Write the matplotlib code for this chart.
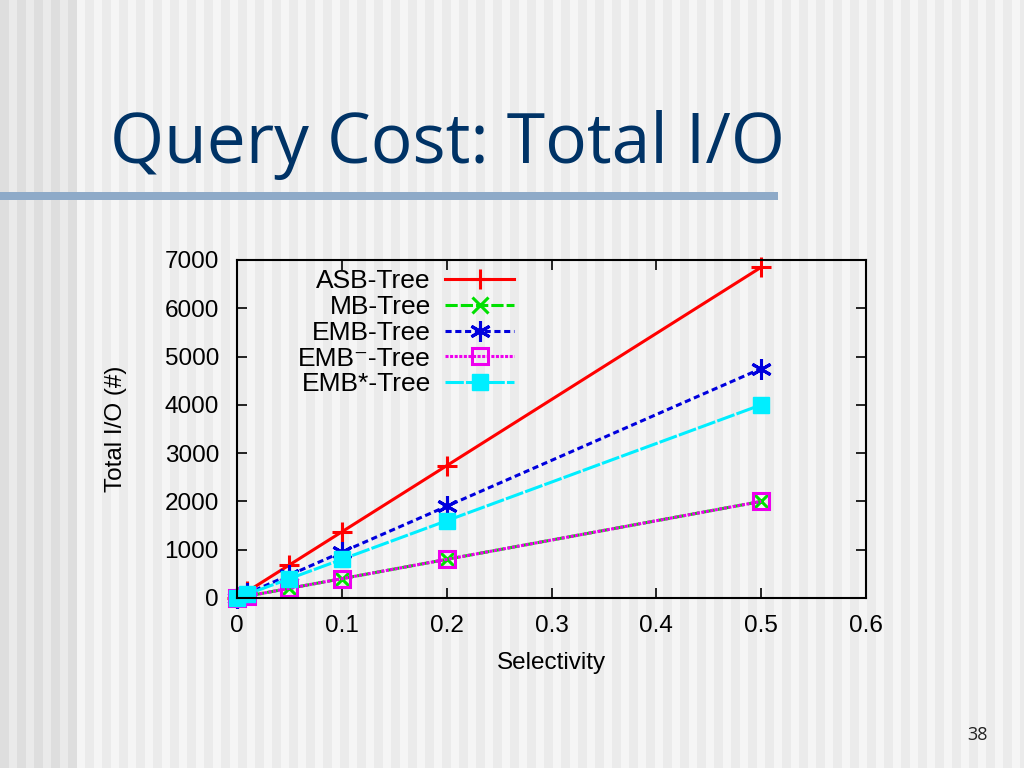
import matplotlib
matplotlib.use("Agg")
import matplotlib.pyplot as plt
from matplotlib.patches import Rectangle
import numpy as np

# ---- data ----
selectivity = [0.0, 0.01, 0.05, 0.1, 0.2, 0.5]
asb_tree  = [2, 137, 685, 1370, 2740, 6850]
mb_tree   = [1, 40, 200, 400, 800, 2000]
emb_tree  = [2, 95, 475, 950, 1900, 4750]
embm_tree = [1, 40, 200, 400, 800, 2000]
embs_tree = [1, 80, 400, 800, 1600, 4000]
series_labels = ["ASB-Tree", "MB-Tree", "EMB-Tree", "EMB\u207b-Tree", "EMB*-Tree"]
xticks = [0, 0.1, 0.2, 0.3, 0.4, 0.5, 0.6]
xticklabels = ["0", "0.1", "0.2", "0.3", "0.4", "0.5", "0.6"]
yticks = [0, 1000, 2000, 3000, 4000, 5000, 6000, 7000]

W, H = 1024, 768
fig = plt.figure(figsize=(W/100, H/100), dpi=100)
fig.patch.set_facecolor("#f3f3f3")

# background vertical stripes
def px_rect(x0, y0, w, h, color, z=-10):
    fig.patches.append(Rectangle((x0/W, 1 - (y0+h)/H), w/W, h/H, transform=fig.transFigure,
                                 facecolor=color, edgecolor="none", zorder=z))

x = 0
k = 0
while x < W:
    w = 9 if k % 2 == 0 else 8
    if x < 75:
        col = "#dedede" if k % 2 == 0 else "#eaeaea"
    else:
        col = "#ebebeb" if k % 2 == 0 else "#f5f5f5"
    px_rect(x, 0, w, H, col)
    x += w
    k += 1

# horizontal bar below title
px_rect(0, 192, 778, 8, "#8eaac8", z=-5)

fig.text(110/W, 1 - 145/H, "Query Cost: Total I/O", fontsize=50, color="#003366",
         family="Open Sans", va="center", ha="left")
fig.text(988/W, 1 - 735/H, "38", fontsize=13, color="#222222", family="Open Sans",
         ha="right", va="center")

ax = fig.add_axes([237/W, 1 - 598/H, (866-237)/W, (598-260)/H])
ax.set_facecolor("none")

lw = 2.2
common = dict(lw=lw, clip_on=False)
ax.plot(selectivity, asb_tree, color="#ff0000", marker="+", ms=15, mew=2.2, label=series_labels[0], **common)
ax.plot(selectivity, mb_tree, color="#00e000", ls=(0, (4, 1)), marker="x", ms=11, mew=2.2, label=series_labels[1], **common)
ax.plot(selectivity, emb_tree, color="#0000dd", ls=(0, (2, 1.2)), marker=(6, 2, 0), ms=15, mew=2.2, label=series_labels[2], **common)
ax.plot(selectivity, embm_tree, color="#ee00ee", ls=(0, (1, 0.5)), marker="s", ms=11, mew=2.2,
        mfc="none", label=series_labels[3], **common)
ax.plot(selectivity, embs_tree, color="#00eeff", ls=(0, (6, 0.7)), marker="s", ms=11, mew=1,
        label=series_labels[4], **common)

ax.set_xlim(0, 0.6)
ax.set_ylim(0, 7000)
ax.set_xticks(xticks)
ax.set_xticklabels(xticklabels)
ax.set_yticks(yticks)
ax.tick_params(direction="in", top=True, right=True, length=7, width=1.2,
               labelsize=17.5)
ax.tick_params(axis="y", pad=13)
ax.tick_params(axis="x", pad=12)
for lab in ax.get_xticklabels() + ax.get_yticklabels():
    lab.set_family("Liberation Sans")
for s in ax.spines.values():
    s.set_linewidth(1.5)
    s.set_color("black")

ax.set_xlabel("Selectivity", fontsize=17.5, family="Liberation Sans", labelpad=11)
ax.set_ylabel("Total I/O (#)", fontsize=17.5, family="Liberation Sans", labelpad=27)

leg = ax.legend(loc="upper left", bbox_to_anchor=(0.072, 1.02), frameon=False, markerfirst=False,
                prop={"family": ["Liberation Sans", "DejaVu Sans"], "size": 19}, handlelength=2.6,
                labelspacing=0.07, handletextpad=0.55, borderaxespad=0.2)
for t in leg.get_texts():
    t.set_ha("right")
leg._legend_box.align = "right"

fig.savefig("out.png", dpi=100)
